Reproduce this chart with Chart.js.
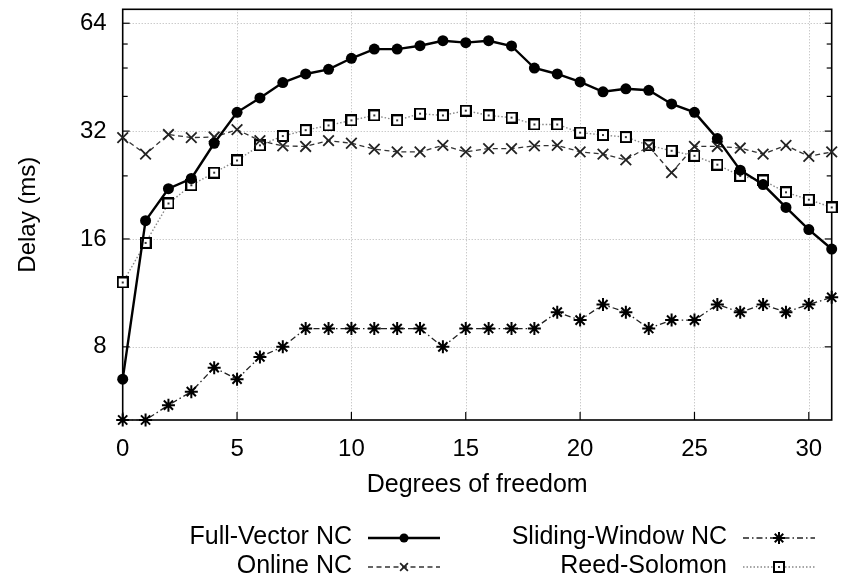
<!DOCTYPE html>
<html>
<head>
<meta charset="utf-8">
<script src="https://cdn.jsdelivr.net/npm/chart.js@4"></script>
<style>
  html, body { margin: 0; padding: 0; background: #fff; }
  #wrap { width: 844px; height: 580px; }
</style>
</head>
<body>
<div id="wrap"><canvas id="delayChart" width="844" height="580"></canvas></div>
<script>
// Degrees of freedom on the x axis
const degrees = [0, 1, 2, 3, 4, 5, 6, 7, 8, 9, 10, 11, 12, 13, 14, 15,
                 16, 17, 18, 19, 20, 21, 22, 23, 24, 25, 26, 27, 28, 29, 30, 31];

// Delay in ms for each coding scheme
const fullVector = [6.5, 18.0, 22.1, 23.6, 29.6, 36.1, 39.6, 43.7, 46.2, 47.6, 51.1, 54.2,
                    54.2, 55.4, 57.2, 56.5, 57.2, 55.3, 48.0, 46.2, 43.9, 41.2, 42.0, 41.6,
                    38.1, 36.1, 30.5, 24.9, 22.7, 19.6, 17.0, 15.0];
const onlineNC = [30.7, 27.6, 31.3, 30.7, 30.8, 32.3, 30.1, 29.1, 29.0, 30.1, 29.6, 28.5,
                  28.0, 28.0, 29.2, 28.0, 28.6, 28.6, 29.1, 29.2, 28.0, 27.6, 26.6, 29.0,
                  24.5, 29.0, 29.0, 28.7, 27.6, 29.2, 27.2, 28.0];
const slidingWindow = [5.0, 5.0, 5.5, 6.0, 7.0, 6.5, 7.5, 8.0, 9.0, 9.0, 9.0, 9.0,
                       9.0, 9.0, 8.0, 9.0, 9.0, 9.0, 9.0, 10.0, 9.5, 10.5, 10.0, 9.0,
                       9.5, 9.5, 10.5, 10.0, 10.5, 10.0, 10.5, 11.0];
const reedSolomon = [12.1, 15.6, 20.1, 22.6, 24.5, 26.5, 29.2, 31.0, 32.2, 33.2, 34.3, 35.4,
                     34.3, 35.8, 35.4, 36.5, 35.4, 34.9, 33.4, 33.4, 31.7, 31.2, 30.8, 29.2,
                     28.2, 27.3, 25.8, 24.0, 23.3, 21.6, 20.6, 19.6];

const seriesNames = ['Full-Vector NC', 'Online NC', 'Sliding-Window NC', 'Reed-Solomon'];

// Axis ticks
const xTicks = [0, 5, 10, 15, 20, 25, 30];
const yTicks = [8, 16, 32, 64];
const yMinorTicks = [24, 40, 48, 56];

const FONT = "'Liberation Sans', Arial, Helvetica, sans-serif";

function points(values) {
  return degrees.map((d, i) => ({ x: d, y: values[i] }));
}

// Open square marker with a small dot in the middle
function boxedDot(size) {
  const c = document.createElement('canvas');
  c.width = size; c.height = size;
  const g = c.getContext('2d');
  g.fillStyle = '#fff';
  g.fillRect(1, 1, size - 2, size - 2);
  g.strokeStyle = '#000';
  g.lineWidth = 2;
  g.strokeRect(1, 1, size - 2, size - 2);
  g.fillStyle = '#333';
  g.fillRect(size / 2 - 1, size / 2 - 1, 2, 2);
  return c;
}
const squareMark = boxedDot(12);

// Frame: dotted grid, inward tick marks and the plot border
const framePlugin = {
  id: 'frame',
  beforeDatasetsDraw(chart) {
    const { ctx, chartArea: a, scales: { x, y } } = chart;
    ctx.save();
    ctx.strokeStyle = '#b4b4b4';
    ctx.lineWidth = 1;
    ctx.setLineDash([1, 2]);
    yTicks.forEach(v => {
      const py = Math.round(y.getPixelForValue(v)) + 0.5;
      ctx.beginPath(); ctx.moveTo(a.left + 7, py); ctx.lineTo(a.right - 7, py); ctx.stroke();
    });
    xTicks.forEach(v => {
      if (v <= x.min || v >= x.max) return;
      const px = Math.round(x.getPixelForValue(v)) + 0.5;
      ctx.beginPath(); ctx.moveTo(px, a.top); ctx.lineTo(px, a.bottom - 8); ctx.stroke();
    });
    ctx.setLineDash([]);
    ctx.strokeStyle = '#000';
    ctx.lineWidth = 1.2;
    const tick = (x0, y0, x1, y1) => { ctx.beginPath(); ctx.moveTo(x0, y0); ctx.lineTo(x1, y1); ctx.stroke(); };
    yTicks.forEach(v => {
      const py = y.getPixelForValue(v);
      tick(a.left, py, a.left + 7, py);
      tick(a.right, py, a.right - 7, py);
    });
    yMinorTicks.forEach(v => {
      const py = y.getPixelForValue(v);
      tick(a.left, py, a.left + 5, py);
      tick(a.right, py, a.right - 5, py);
    });
    xTicks.forEach(v => {
      const px = x.getPixelForValue(v);
      tick(px, a.bottom, px, a.bottom - 8);
    });
    ctx.lineWidth = 1.6;
    ctx.strokeRect(a.left, a.top, a.right - a.left, a.bottom - a.top);
    ctx.restore();
  }
};

// Two-column key below the plot: label text, then a line sample with its marker
const keyPlugin = {
  id: 'key',
  afterDraw(chart) {
    const ctx = chart.ctx;
    const slots = [
      { x: 352, y: 537 }, { x: 352, y: 566 },
      { x: 727, y: 537 }, { x: 727, y: 566 }
    ];
    chart.data.datasets.forEach((ds, i) => {
      const s = slots[i];
      ctx.save();
      ctx.font = '25px ' + FONT;
      ctx.fillStyle = '#000';
      ctx.textAlign = 'right';
      ctx.textBaseline = 'middle';
      ctx.fillText(ds.label, s.x, s.y);
      const x0 = s.x + 16, x1 = s.x + 88, cx = (x0 + x1) / 2, ly = s.y + 1;
      ctx.strokeStyle = ds.borderColor;
      ctx.lineWidth = ds.borderWidth;
      ctx.setLineDash(ds.borderDash || []);
      ctx.beginPath(); ctx.moveTo(x0, ly); ctx.lineTo(x1, ly); ctx.stroke();
      ctx.setLineDash([]);
      ctx.fillStyle = ds.pointBackgroundColor || '#fff';
      ctx.strokeStyle = ds.pointBorderColor || '#000';
      ctx.lineWidth = ds.pointBorderWidth;
      Chart.helpers.drawPoint(ctx, {
        pointStyle: ds.pointStyle, rotation: 0,
        radius: ds.keyRadius, borderWidth: ds.pointBorderWidth
      }, cx, ly);
      ctx.restore();
    });
  }
};

const common = { fill: false, tension: 0, clip: false, pointHoverRadius: 0 };

new Chart(document.getElementById('delayChart'), {
  type: 'line',
  data: {
    datasets: [
      Object.assign({
        label: seriesNames[0], data: points(fullVector),
        borderColor: '#000', borderWidth: 2.4,
        pointStyle: 'circle', pointRadius: 5.5, keyRadius: 4.5,
        pointBackgroundColor: '#000', pointBorderColor: '#000', pointBorderWidth: 0
      }, common),
      Object.assign({
        label: seriesNames[1], data: points(onlineNC),
        borderColor: '#333', borderWidth: 1.3, borderDash: [5, 3.5],
        pointStyle: 'crossRot', pointRadius: 7.5, keyRadius: 5.5,
        pointBackgroundColor: '#222', pointBorderColor: '#222', pointBorderWidth: 1.8
      }, common),
      Object.assign({
        label: seriesNames[2], data: points(slidingWindow),
        borderColor: '#222', borderWidth: 1.3, borderDash: [6, 3, 1.5, 3],
        pointStyle: 'star', pointRadius: 6.5, keyRadius: 6,
        pointBackgroundColor: '#000', pointBorderColor: '#000', pointBorderWidth: 2
      }, common),
      Object.assign({
        label: seriesNames[3], data: points(reedSolomon),
        borderColor: '#888', borderWidth: 1.4, borderDash: [1.5, 2],
        pointStyle: squareMark, pointRadius: 6, keyRadius: 6,
        pointBackgroundColor: '#fff', pointBorderColor: '#000', pointBorderWidth: 0
      }, common)
    ]
  },
  options: {
    responsive: false,
    animation: false,
    events: [],
    layout: { padding: { left: 0, right: 12.3, top: 6.7, bottom: 80 } },
    plugins: { legend: { display: false }, tooltip: { enabled: false } },
    scales: {
      x: {
        type: 'linear', min: 0, max: 31,
        afterBuildTicks: s => { s.ticks = xTicks.map(v => ({ value: v })); },
        afterFit: s => { s.height = 80; s.paddingLeft = 0; s.paddingRight = 0; },
        grid: { display: false, drawTicks: false },
        border: { display: false },
        ticks: { color: '#000', font: { family: FONT, size: 24 }, padding: 15, maxRotation: 0, autoSkip: false },
        title: { display: true, text: 'Degrees of freedom', color: '#000',
                 font: { family: FONT, size: 25 }, padding: { top: 0, bottom: 0 } }
      },
      y: {
        type: 'logarithmic', min: 5, max: 70,
        afterBuildTicks: s => { s.ticks = yTicks.map(v => ({ value: v })); },
        afterFit: s => { s.width = 122.7; s.paddingTop = 0; s.paddingBottom = 0; },
        grid: { display: false, drawTicks: false },
        border: { display: false },
        ticks: { color: '#000', font: { family: FONT, size: 24 }, padding: 16, autoSkip: false,
                 callback: v => String(v) },
        title: { display: true, text: 'Delay (ms)', color: '#000',
                 font: { family: FONT, size: 24 }, padding: { top: 14, bottom: 0 } }
      }
    }
  },
  plugins: [framePlugin, keyPlugin]
});
</script>
</body>
</html>
